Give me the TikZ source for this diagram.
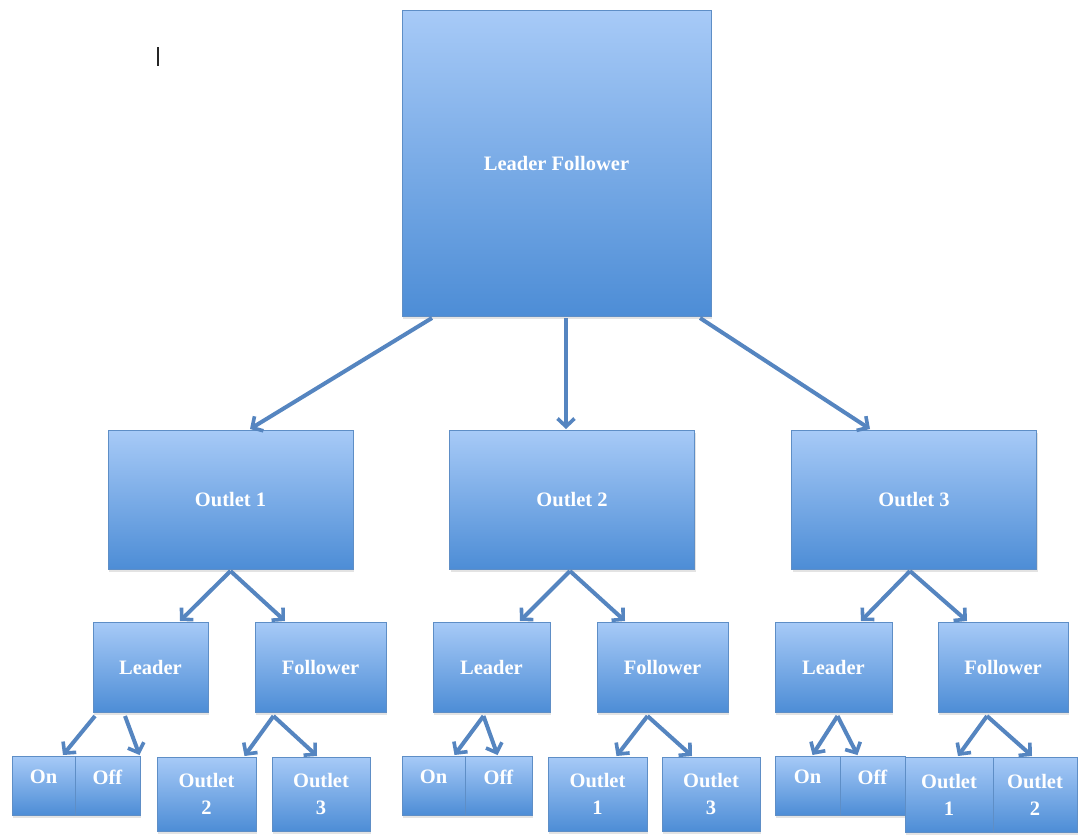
\documentclass[tikz,border=0pt]{standalone}
\usepackage{fontspec}
\setmainfont{Liberation Serif}
\usetikzlibrary{arrows.meta,calc,shadows}
\definecolor{boxtop}{HTML}{A7CAF7}
\definecolor{boxbot}{HTML}{4D8DD6}
\definecolor{boxline}{HTML}{5E8EC6}
\definecolor{arrowc}{HTML}{5585C0}
\tikzset{
  box/.style={rectangle, draw=boxline, line width=1pt, top color=boxtop, bottom color=boxbot,
    text=white, font=\bfseries\fontsize{20.5}{27}\selectfont, align=center, inner sep=0pt, outer sep=0pt,
    drop shadow={opacity=0.22, shadow xshift=1pt, shadow yshift=-2.5pt}},
  arr/.style={draw=arrowc, line width=4pt, -{Straight Barb[length=8pt,width=17pt,line width=3.6pt]}}
}
\begin{document}
\begin{tikzpicture}[x=1pt,y=-1pt]
\useasboundingbox (0,0) rectangle (1085,836);
\fill[white] (0,0) rectangle (1085,836);

% text cursor mark
\coordinate (c1) at (158,47);
\coordinate (c2) at (158,66);
\draw[black!85, line width=1.8pt] (c1) -- (c2);

% root
\node[box, minimum width=309pt, minimum height=306pt] (lf) at (556.5,163) {Leader Follower};

% outlets
\node[box, minimum width=245pt, minimum height=139pt] (o1) at (230.5,499.5) {Outlet 1};
\node[box, minimum width=245pt, minimum height=139pt] (o2) at (572,499.5) {Outlet 2};
\node[box, minimum width=245pt, minimum height=139pt] (o3) at (914,499.5) {Outlet 3};

% leader / follower
\node[box, minimum width=115pt, minimum height=90pt] (l1) at (150.5,667) {Leader};
\node[box, minimum width=131pt, minimum height=90pt] (f1) at (320.5,667) {Follower};
\node[box, minimum width=117pt, minimum height=90pt] (l2) at (491.5,667) {Leader};
\node[box, minimum width=131pt, minimum height=90pt] (f2) at (662.5,667) {Follower};
\node[box, minimum width=117pt, minimum height=90pt] (l3) at (833.5,667) {Leader};
\node[box, minimum width=130pt, minimum height=90pt] (f3) at (1003,667) {Follower};

% bottom row
\node[box, minimum width=63pt, minimum height=59pt] (on1) at (43.5,785.5) {On\\[-10pt]};
\node[box, minimum width=65pt, minimum height=59pt] (off1) at (107.5,785.5) {Off\\[-10pt]};
\node[box, minimum width=99pt, minimum height=74pt] (oa2) at (206.5,794) {Outlet\\2};
\node[box, minimum width=98pt, minimum height=74pt] (oa3) at (321,794) {Outlet\\3};

\node[box, minimum width=63pt, minimum height=59pt] (on2) at (433.5,785.5) {On\\[-10pt]};
\node[box, minimum width=67pt, minimum height=59pt] (off2) at (498.5,785.5) {Off\\[-10pt]};
\node[box, minimum width=99pt, minimum height=74pt] (ob1) at (597.5,794) {Outlet\\1};
\node[box, minimum width=98pt, minimum height=74pt] (ob3) at (711,794) {Outlet\\3};

\node[box, minimum width=65pt, minimum height=59pt] (on3) at (807.5,785.5) {On\\[-10pt]};
\node[box, minimum width=65pt, minimum height=59pt] (off3) at (872.5,785.5) {Off\\[-10pt]};
\node[box, minimum width=88pt, minimum height=75pt] (oc1) at (949,794.5) {Outlet\\1};
\node[box, minimum width=84pt, minimum height=75pt] (oc2) at (1035,794.5) {Outlet\\2};

% root to outlets
\draw[arr] ($(lf.south west)+(30,2)$) -- ($(o1.north)+(19.5,-1)$);
\draw[arr] ($(lf.south)+(9.5,2)$) -- ($(o2.north)+(-6,-1)$);
\draw[arr] ($(lf.south east)+(-11,2)$) -- ($(o3.north)+(-44,-1)$);

% outlets to leader / follower
\draw[arr] ($(o1.south)+(0,2)$) -- ($(l1.north)+(29.5,-1)$);
\draw[arr] ($(o1.south)+(0,2)$) -- ($(f1.north)+(-35.5,-1)$);
\draw[arr] ($(o2.south)+(-2,2)$) -- ($(l2.north)+(28.5,-1)$);
\draw[arr] ($(o2.south)+(-2,2)$) -- ($(f2.north)+(-37.5,-1)$);
\draw[arr] ($(o3.south)+(-4,2)$) -- ($(l3.north)+(27.5,-1)$);
\draw[arr] ($(o3.south)+(-4,2)$) -- ($(f3.north)+(-36,-1)$);

% leader to on / off
\draw[arr] ($(l1.south west)+(2,4)$) -- ($(on1.north)+(19.5,-1)$);
\draw[arr] ($(l1.south west)+(32,4)$) -- ($(off1.north)+(32,-1)$);
\draw[arr] ($(l2.south)+(-8,4)$) -- ($(on2.north)+(21,-1)$);
\draw[arr] ($(l2.south)+(-8,4)$) -- ($(off2.north)+(-1,-1)$);
\draw[arr] ($(l3.south)+(4,4)$) -- ($(on3.north)+(5,-1)$);
\draw[arr] ($(l3.south)+(4,4)$) -- ($(off3.north)+(-15,-1)$);

% follower to outlets
\draw[arr] ($(f1.south)+(-47,4)$) -- ($(oa2.north)+(38,-1)$);
\draw[arr] ($(f1.south)+(-47,4)$) -- ($(oa3.north)+(-4,-1)$);
\draw[arr] ($(f2.south)+(-15,4)$) -- ($(ob1.north)+(19,-1)$);
\draw[arr] ($(f2.south)+(-15,4)$) -- ($(ob3.north)+(-19,-1)$);
\draw[arr] ($(f3.south)+(-16,4)$) -- ($(oc1.north)+(9,-1)$);
\draw[arr] ($(f3.south)+(-16,4)$) -- ($(oc2.north)+(-3,-1)$);
\end{tikzpicture}
\end{document}
